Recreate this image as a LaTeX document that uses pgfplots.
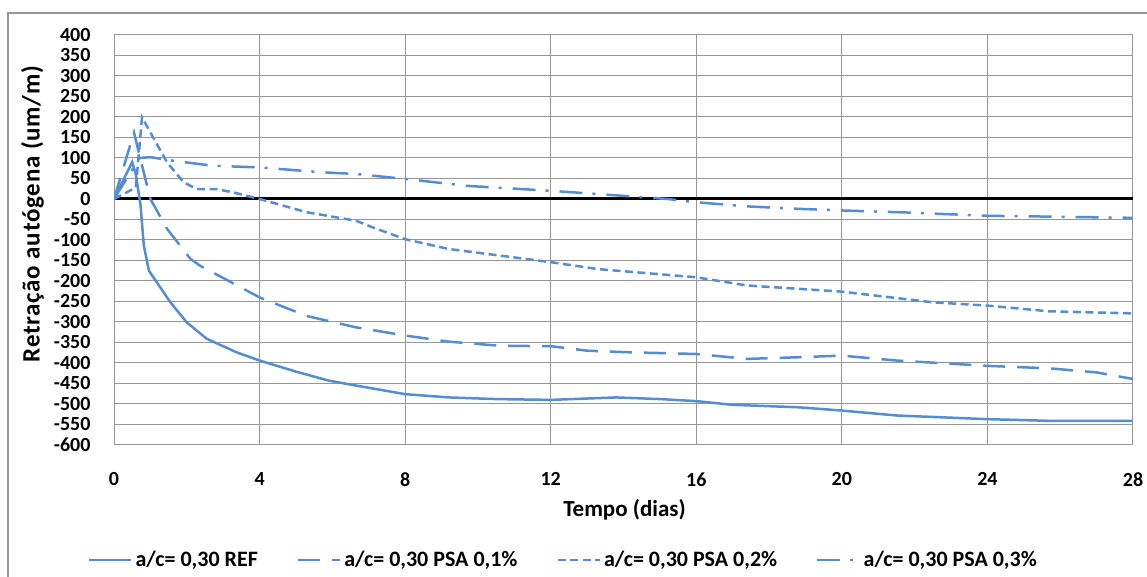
\documentclass[border=0pt]{standalone}
\usepackage{pgfplots}
\pgfplotsset{compat=1.18}
\usepackage{fontspec}
\setmainfont{Carlito}
\definecolor{ln}{RGB}{84,141,212}
\definecolor{gr}{RGB}{150,150,150}
\begin{document}
\begin{tikzpicture}
\path[use as bounding box] (0pt,0pt) rectangle (1147pt,577pt);
\draw[gr, line width=1.5pt] (8pt,0pt) -- (8pt,564pt) -- (1147pt,564pt);
\begin{axis}[
  at={(114pt,132pt)}, anchor=south west, scale only axis,
  width=1019pt, height=410pt,
  xmin=0, xmax=28, ymin=-600, ymax=400,
  xtick={0,4,...,28}, ytick={-600,-550,...,400},
  grid=major, grid style={gr, line width=1pt},
  axis line style={gr, line width=1pt},
  tick style={draw=none},
  /pgf/number format/assume math mode=true,
  ticklabel style={font=\fontsize{20}{20}\selectfont\bfseries},
  x tick label style={yshift=-24pt},
  y tick label style={xshift=-20pt},
  xlabel={Tempo (dias)},
  xlabel style={at={(rel axis cs:0.501,-0.159)}, anchor=center, font=\fontsize{23}{23}\selectfont\bfseries},
  ylabel={Retração autógena (um/m)},
  ylabel style={at={(rel axis cs:-0.080,0.563)}, anchor=center, font=\fontsize{25}{25}\selectfont\bfseries\addfontfeatures{LetterSpace=3}},
  legend style={at={(rel axis cs:0.4416,-0.2805)}, anchor=center, draw=none, fill=none,
    legend columns=4, font=\fontsize{22}{22}\selectfont\bfseries,
    nodes={inner xsep=3pt},
    /tikz/every even column/.append style={column sep=36pt}},
  legend image code/.code={\draw[#1] (0pt,0pt) -- (42pt,0pt);},
]
\addplot[black, line width=3pt, forget plot] coordinates {(0,0) (28,0)};
\addplot[ln, line width=2.5pt] coordinates {
(0,0) (0.5,90) (0.6,60) (0.73,-16) (0.82,-114) (0.96,-175) (1.55,-252) (2.0,-301)
(2.55,-341) (3.37,-374) (4,-394) (5,-421) (5.9,-443) (6.65,-455) (8,-476) (9.2,-484)
(10.5,-488) (12,-490) (13.8,-484) (15,-488) (16,-493) (17,-502) (18.8,-508) (20,-516)
(21.5,-528) (24,-537) (25.7,-541) (28,-541)};
\addlegendentry{a/c= 0,30 REF}
\addplot[ln, line width=2.5pt, dash pattern=on 22pt off 12pt] coordinates {
(0,0) (0.55,162) (0.75,89) (1.0,0) (1.46,-73) (2.1,-146) (2.37,-163) (4,-240)
(5.28,-285) (6.65,-313) (8,-333) (9.2,-348) (10.6,-358) (12,-359) (13,-370) (14.2,-374)
(16,-378) (17.4,-390) (18.8,-386) (20,-382) (21.5,-394) (24,-407) (25.7,-413) (27,-423) (28,-439)};
\addlegendentry{a/c= 0,30 PSA 0,1\%}
\addplot[ln, line width=2.5pt, dash pattern=on 8pt off 4.5pt] coordinates {
(0,0) (0.6,28) (0.77,199) (1.46,89) (1.91,41) (2.28,24) (2.82,24) (3.28,16) (4,0)
(5.28,-32) (6.65,-53) (7.1,-69) (8,-98) (9.2,-122) (10.6,-138) (12,-154) (13.3,-171)
(16,-191) (17.4,-211) (18.8,-219) (20,-226) (22.5,-252) (24,-260) (25.7,-274) (28,-279)};
\addlegendentry{a/c= 0,30 PSA 0,2\%}
\addplot[ln, line width=2.5pt, dash pattern=on 23pt off 10pt on 3pt off 11pt] coordinates {
(0,0) (0.7,100) (1,102) (1.64,93) (2.73,81) (4,77) (5.74,65) (6.65,61) (8,49) (9.7,32)
(12,20) (13.3,12) (15.2,0) (16,-8) (17.4,-18) (18.8,-24) (20,-28) (21.8,-33) (24,-41)
(25.7,-43) (28,-46)};
\addlegendentry{a/c= 0,30 PSA 0,3\%}
\end{axis}
\end{tikzpicture}
\end{document}
